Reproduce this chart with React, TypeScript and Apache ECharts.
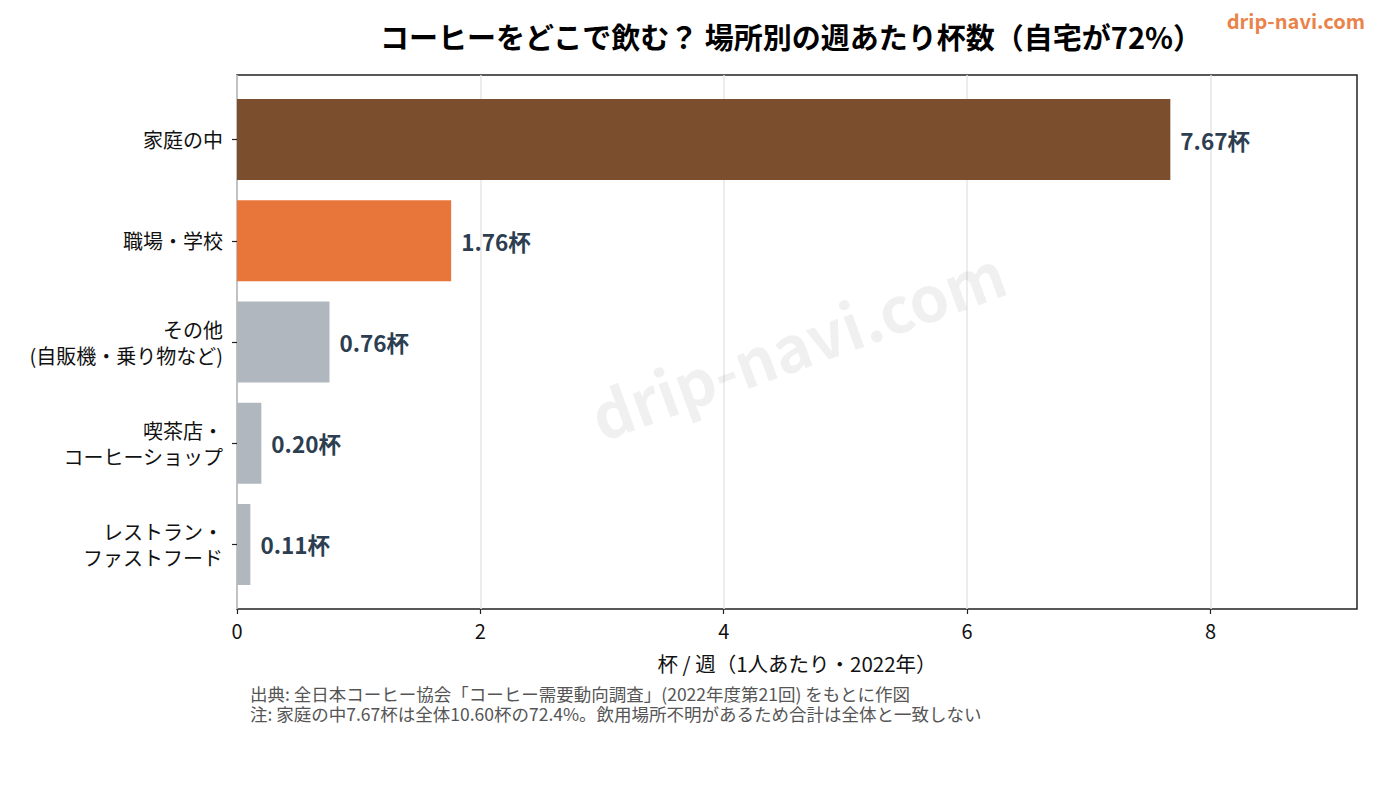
import { useEffect, useRef } from 'react'
import * as echarts from 'echarts'

const places = [
  '家庭の中',
  '職場・学校',
  'その他\n(自販機・乗り物など)',
  '喫茶店・\nコーヒーショップ',
  'レストラン・\nファストフード',
]
const cups = [7.67, 1.76, 0.76, 0.2, 0.11]
const barColors = ['#7B4F2E', '#E8763A', '#B0B7BF', '#B0B7BF', '#B0B7BF']
const xTicks = [0, 2, 4, 6, 8]
const xMax = 9.204

const notes = [
  '出典: 全日本コーヒー協会「コーヒー需要動向調査」(2022年度第21回) をもとに作図',
  '注: 家庭の中7.67杯は全体10.60杯の72.4%。飲用場所不明があるため合計は全体と一致しない',
]

const FONT = '"Noto Sans CJK JP", "Noto Sans", sans-serif'

export default function App() {
  const chartRef = useRef<HTMLDivElement>(null)

  useEffect(() => {
    document.body.style.margin = '0'
    if (!chartRef.current) return
    const chart = echarts.init(chartRef.current, undefined, { renderer: 'svg' })

    chart.setOption({
      animation: false,
      backgroundColor: '#ffffff',
      textStyle: { fontFamily: FONT },
      grid: [
        // 棒グラフ用
        { left: 237, top: 89, width: 1120, height: 506 },
        // 枠・目盛り用
        {
          left: 237, top: 75, width: 1120, height: 534,
          show: true, borderColor: '#222', borderWidth: 1.5, backgroundColor: 'transparent',
        },
      ],
      xAxis: [
        { gridIndex: 0, type: 'value', min: 0, max: xMax, show: false },
        {
          gridIndex: 1,
          type: 'value',
          min: 0,
          max: xMax,
          interval: 2,
          axisLine: { show: false },
          axisTick: { show: true, length: 5, customValues: xTicks, lineStyle: { color: '#222', width: 1.2 } },
          axisLabel: { customValues: xTicks, color: '#111', fontSize: 20, margin: 11, fontFamily: FONT },
          splitLine: { show: true, lineStyle: { color: '#e6e6e6', width: 1.5 } },
          name: '杯 / 週（1人あたり・2022年）',
          nameLocation: 'middle',
          nameGap: 44,
          nameTextStyle: { color: '#111', fontSize: 20.5, fontFamily: FONT },
        },
      ],
      yAxis: [
        {
          gridIndex: 0,
          type: 'category',
          data: places,
          inverse: true,
          axisLine: { show: false },
          axisTick: { show: true, alignWithLabel: true, length: 5, lineStyle: { color: '#222', width: 1.2 } },
          axisLabel: { color: '#111', fontSize: 20, lineHeight: 26, margin: 14, align: 'right', fontFamily: FONT },
        },
        { gridIndex: 1, type: 'value', min: 0, max: 1, show: false },
      ],
      series: [
        {
          type: 'bar',
          xAxisIndex: 0,
          yAxisIndex: 0,
          barWidth: 81,
          z: 3,
          data: cups.map((v, i) => ({ value: v, itemStyle: { color: barColors[i] } })),
          label: {
            show: true,
            position: 'right',
            distance: 10,
            formatter: (p: any) => `${Number(p.value).toFixed(2)}杯`,
            color: '#2C3E50',
            fontSize: 22.5,
            fontWeight: 'bold',
            fontFamily: FONT,
          },
        },
      ],
      graphic: [
        {
          type: 'text',
          x: 797,
          y: 342,
          rotation: (20 * Math.PI) / 180,
          z: 1,
          style: {
            text: 'drip-navi.com',
            fill: 'rgba(0,0,0,0.06)',
            font: `bold 63px ${FONT}`,
            textAlign: 'center',
            textVerticalAlign: 'middle',
          },
        },
        {
          type: 'text',
          x: 791,
          y: 36,
          style: {
            text: 'コーヒーをどこで飲む？ 場所別の週あたり杯数（自宅が72%）',
            fill: '#000',
            font: `bold 29px ${FONT}`,
            textAlign: 'center',
            textVerticalAlign: 'middle',
          },
        },
        {
          type: 'text',
          x: 1365,
          y: 20,
          style: {
            text: 'drip-navi.com',
            fill: '#E9834A',
            font: `bold 20px ${FONT}`,
            textAlign: 'right',
            textVerticalAlign: 'middle',
          },
        },
        {
          type: 'text',
          x: 250,
          y: 703,
          style: {
            text: notes.join('\n'),
            fill: '#555',
            fontSize: 17.5,
            fontFamily: FONT,
            lineHeight: 20,
            verticalAlign: 'middle',
          },
        },
      ],
    })

    return () => {
      chart.dispose()
    }
  }, [])

  return <div ref={chartRef} style={{ width: 1380, height: 810 }} />
}
